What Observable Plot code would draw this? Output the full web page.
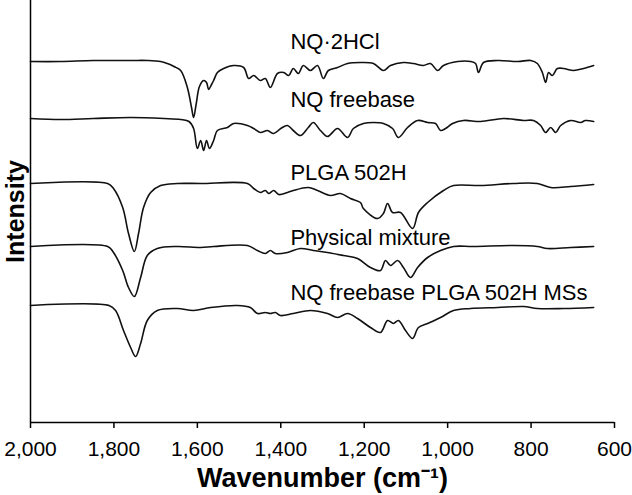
<!DOCTYPE html>
<html>
<head>
<meta charset="utf-8">
<script src="https://cdn.jsdelivr.net/npm/d3@7"></script>
<script src="https://cdn.jsdelivr.net/npm/@observablehq/plot@0.6"></script>
<style>
  html, body { margin: 0; padding: 0; background: #fff; }
  #chart svg { display: block; }
</style>
</head>
<body>
<div id="chart"></div>
<script>
// Series names (labels drawn on the chart)
const seriesNames = ["NQ·2HCl", "NQ freebase", "PLGA 502H", "Physical mixture", "NQ freebase PLGA 502H MSs"];

// Label anchor positions (wavenumber of label start, intensity of label centre)
const labelWn = [1377, 1377, 1377, 1377, 1377];
const labelInt = [381, 323, 250, 185, 130];

// x ticks
const xTicks = [2000, 1800, 1600, 1400, 1200, 1000, 800, 600];

// NQ·2HCl
const wnNQ2HCl = [2000,1928,1850,1760,1720,1688,1672,1656,1640,1624,1614,1609,1603,1595,1585,1578,1573,1566,1561,1552,1537,1513,1489,1477,1465,1449,1437,1425,1408,1393,1381,1370,1358,1346,1329,1312,1298,1286,1264,1240,1209,1178,1154,1137,1106,1082,1058,1041,1024,1010,976,945,933,926,914,880,832,801,785,773,765,758,749,737,722,698,674,650];
const intNQ2HCl = [361,361,362,362,362,361,359,356,352,335,315,305,318,336,342,340,333,338,342,350,354,357,355,344,347,342,344,335,349,350,347,354,349,357,352,357,344,352,355,359,360,359,352,357,360,359,357,359,352,357,361,361,359,350,360,362,361,362,359,350,340,350,347,354,354,352,354,357];

// NQ freebase
const wnNQfb = [2000,1928,1850,1760,1680,1640,1620,1609,1600,1592,1585,1578,1571,1561,1552,1528,1513,1480,1465,1449,1432,1417,1400,1384,1370,1353,1334,1322,1305,1288,1264,1240,1226,1202,1178,1154,1132,1118,1096,1072,1048,1029,1017,1005,988,962,921,866,818,794,777,765,753,741,729,705,681,670,650];
const intNQfb = [304,303,304,305,304,303,301,294,274,282,272,282,274,282,292,295,299,297,294,290,292,289,294,297,292,287,295,300,292,286,294,285,294,299,300,299,294,285,295,302,300,299,292,294,299,302,301,304,302,302,297,290,295,290,297,302,300,302,301];

// PLGA 502H
const wnPLGA = [2000,1815,1801,1779,1765,1751,1741,1729,1712,1688,1648,1592,1480,1465,1449,1437,1429,1417,1405,1384,1370,1334,1312,1281,1257,1233,1209,1202,1168,1154,1144,1132,1113,1084,1070,1048,1010,986,921,842,785,753,705,650];
const intPLGA = [239,239,234,215,189,171,189,215,230,237,239,239,239,234,230,232,229,232,228,230,232,235,232,227,229,224,220,214,204,209,219,210,210,194,210,220,232,237,237,239,239,235,236,238];

// Physical mixture
const wnPhys = [2000,1815,1801,1779,1765,1751,1736,1720,1696,1648,1592,1561,1480,1456,1437,1425,1413,1384,1353,1322,1288,1250,1216,1185,1161,1149,1137,1120,1106,1089,1072,1048,1017,986,938,842,785,761,705,650];
const intPhys = [176,176,170,152,135,126,145,167,174,176,175,176,177,172,169,172,169,170,174,172,170,167,164,155,152,162,157,162,155,145,155,165,172,176,176,177,176,174,175,176];

// NQ freebase PLGA 502H MSs
const wnMS = [2000,1812,1796,1777,1760,1748,1736,1720,1696,1648,1609,1568,1504,1473,1456,1437,1425,1413,1401,1370,1329,1288,1264,1240,1216,1185,1161,1144,1130,1118,1101,1084,1070,1048,1017,986,945,880,818,785,722,650];
const intMS = [117,117,112,92,75,66,79,102,112,114,112,115,117,115,109,110,109,110,107,109,112,109,105,109,104,95,90,102,99,102,92,84,95,99,105,112,114,115,116,114,114,115];

const wnAll = [wnNQ2HCl, wnNQfb, wnPLGA, wnPhys, wnMS];
const intAll = [intNQ2HCl, intNQfb, intPLGA, intPhys, intMS];

const rows = [];
seriesNames.forEach((name, i) => {
  wnAll[i].forEach((w, j) => rows.push({series: name, wn: w, intensity: intAll[i][j]}));
});
const labels = seriesNames.map((name, i) => ({name, wn: labelWn[i], intensity: labelInt[i]}));

const FONT = "'Liberation Sans', Arial, Helvetica, sans-serif";

const chart = Plot.plot({
  width: 632,
  height: 495,
  marginLeft: 30,
  marginRight: 18,
  marginTop: 0,
  marginBottom: 73,
  style: {fontFamily: FONT, color: "#000", background: "#fff", overflow: "visible"},
  x: {domain: [2000, 600], axis: null},
  y: {domain: [0, 422], axis: null},
  marks: [
    Plot.line(rows, {x: "wn", y: "intensity", z: "series", stroke: "#111", strokeWidth: 1.6, curve: "catmull-rom"}),
    Plot.text(labels, {x: "wn", y: "intensity", text: "name", textAnchor: "start", fontSize: 22, fill: "#000", fontFamily: FONT}),
    Plot.axisX({ticks: xTicks, tickFormat: d3.format(","), tickSize: 6, tickPadding: 13, fontSize: 21, stroke: "#000", strokeWidth: 1.5, fill: "#000", label: null}),
    Plot.ruleY([0], {stroke: "#000", strokeWidth: 1.5}),
    Plot.ruleX([2000], {stroke: "#000", strokeWidth: 1.5}),
    Plot.text(["Wavenumber (cm⁻¹)"], {frameAnchor: "bottom", lineAnchor: "bottom", textAnchor: "middle", dy: 64, fontSize: 27, fontWeight: "bold", fill: "#000", fontFamily: FONT}),
    Plot.text(["Intensity"], {frameAnchor: "left", textAnchor: "middle", lineAnchor: "middle", dx: -15, rotate: -90, fontSize: 25, fontWeight: "bold", fill: "#000", fontFamily: FONT})
  ]
});
document.getElementById("chart").appendChild(chart);
</script>
</body>
</html>
